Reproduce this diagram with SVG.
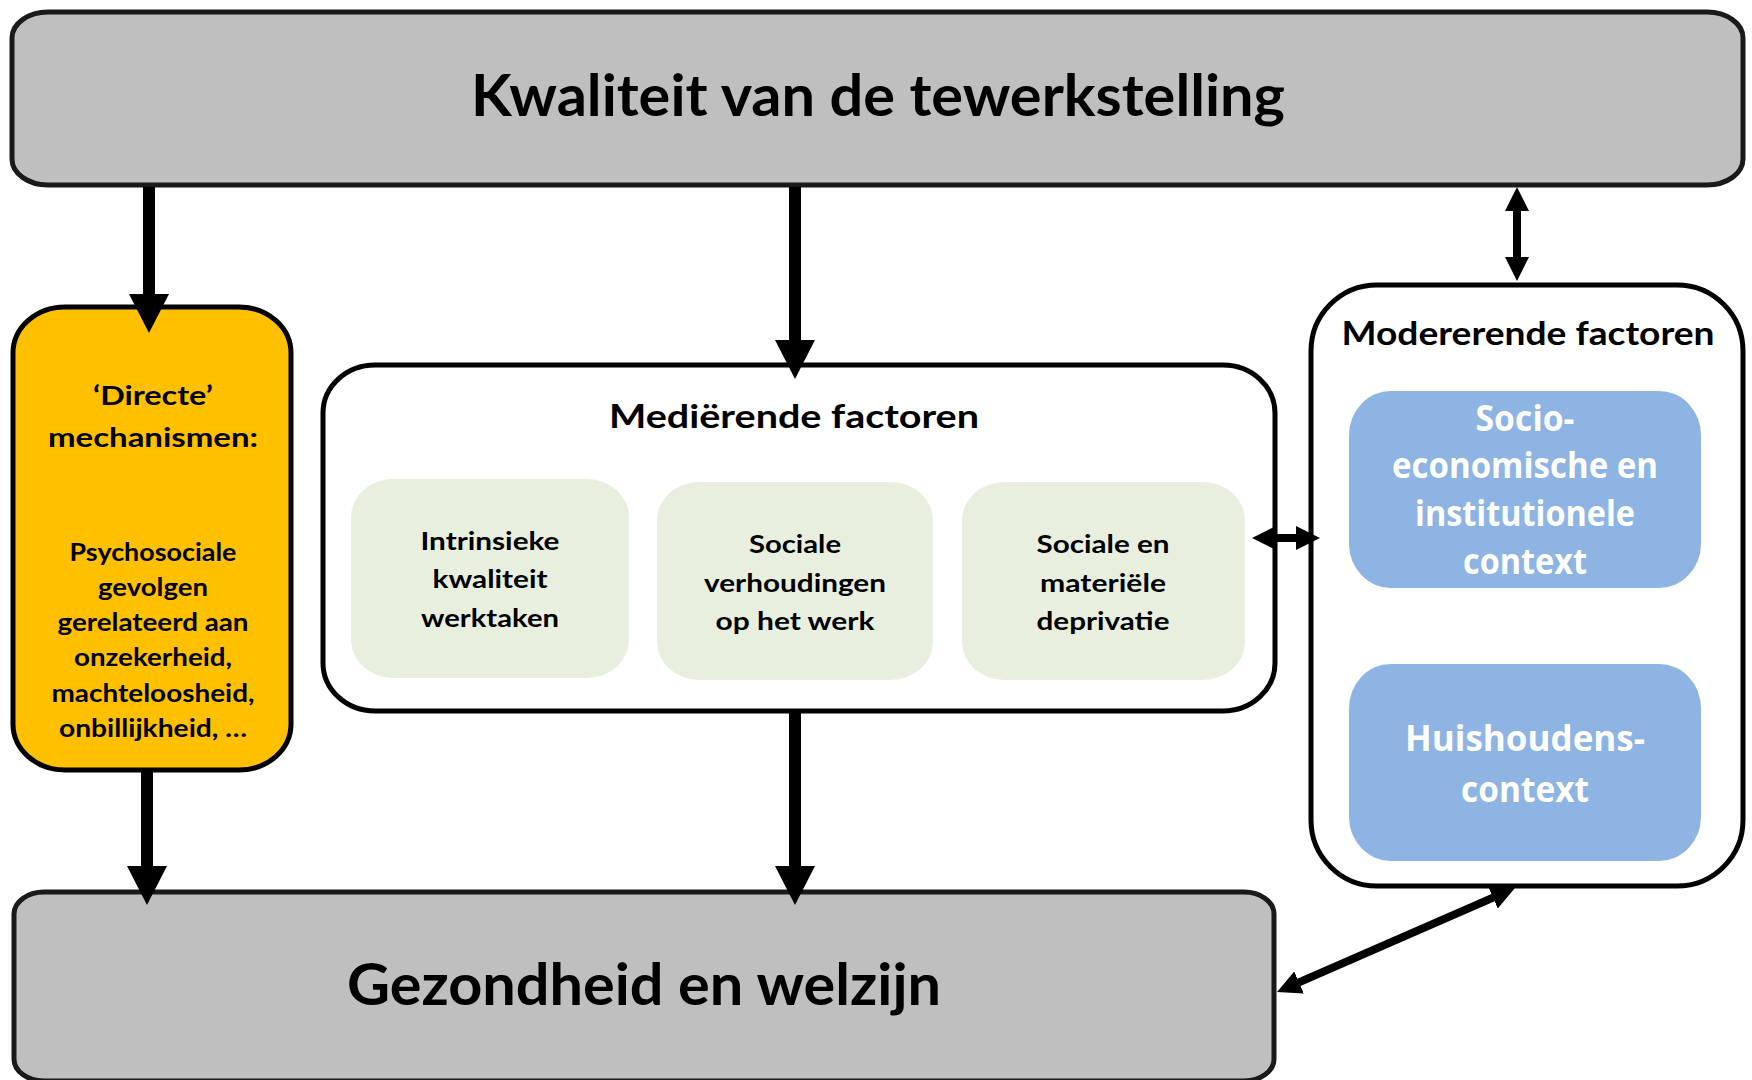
<svg xmlns="http://www.w3.org/2000/svg" width="1752" height="1080" viewBox="0 0 1752 1080">
<style>
  .box { stroke: #000; stroke-width: 5; }
  .gray { fill: #bfbfbf; stroke: #1a1a1a; stroke-width: 5; }
  .yellow { fill: #ffc000; }
  .white { fill: #ffffff; }
  .green { fill: #e9efdf; stroke: none; }
  .blue { fill: #8db4e2; stroke: none; }
  text { font-family: Lato, "Open Sans", "Liberation Sans", sans-serif; font-weight: bold; fill: #000; text-anchor: middle; }
  .big { font-size: 58px; }
  .head { font-size: 33px; }
  .mid { font-size: 26.5px; }
  .small { font-size: 24px; }
  .gtxt { font-size: 25.5px; }
  .btxt { font-family: "Open Sans", "Noto Sans", "Liberation Sans", sans-serif; font-size: 35px; fill: #ffffff; }
  .thick { stroke: #000; stroke-width: 12; fill: none; }
  .thin { stroke: #000; stroke-width: 8; fill: none; }
</style>
<defs>
  <marker id="headThick" markerUnits="userSpaceOnUse" viewBox="0 0 39 40" markerWidth="39" markerHeight="40" refX="2" refY="20" orient="auto">
    <path d="M0,0 L39,20 L0,40 z" fill="#000"/>
  </marker>
  <marker id="headThin" markerUnits="userSpaceOnUse" viewBox="0 0 24 24" markerWidth="24" markerHeight="24" refX="2" refY="12" orient="auto-start-reverse">
    <path d="M0,0 L24,12 L0,24 z" fill="#000"/>
  </marker>
</defs>

<g id="node-kwaliteit">
  <rect class="gray" x="12" y="12" width="1731" height="173" rx="36" ry="26"/>
  <text class="big" x="878" y="116" textLength="814" lengthAdjust="spacingAndGlyphs">Kwaliteit van de tewerkstelling</text>
</g>

<g id="node-directe">
  <rect class="box yellow" x="13" y="307" width="278" height="463" rx="52" ry="46"/>
  <text class="mid" x="153" y="405" textLength="120" lengthAdjust="spacingAndGlyphs">‘Directe’</text>
  <text class="mid" x="153" y="447" textLength="210" lengthAdjust="spacingAndGlyphs">mechanismen:</text>
  <text class="small" x="153" y="561" textLength="167" lengthAdjust="spacingAndGlyphs">Psychosociale</text>
  <text class="small" x="153" y="596" textLength="110" lengthAdjust="spacingAndGlyphs">gevolgen</text>
  <text class="small" x="153" y="631" textLength="191" lengthAdjust="spacingAndGlyphs">gerelateerd aan</text>
  <text class="small" x="153" y="666" textLength="158" lengthAdjust="spacingAndGlyphs">onzekerheid,</text>
  <text class="small" x="153" y="702" textLength="203" lengthAdjust="spacingAndGlyphs">machteloosheid,</text>
  <text class="small" x="153" y="737" textLength="188" lengthAdjust="spacingAndGlyphs">onbillijkheid, …</text>
</g>

<g id="node-medierende">
  <rect class="box white" x="323" y="365" width="952" height="346" rx="52" ry="48"/>
  <text class="head" x="794" y="428" textLength="370" lengthAdjust="spacingAndGlyphs">Mediërende factoren</text>
</g>

<g id="node-intrinsieke">
  <rect class="green" x="351" y="479" width="278" height="199" rx="42" ry="38"/>
  <text class="gtxt" x="490" y="550" textLength="139" lengthAdjust="spacingAndGlyphs">Intrinsieke</text>
  <text class="gtxt" x="490" y="588" textLength="115" lengthAdjust="spacingAndGlyphs">kwaliteit</text>
  <text class="gtxt" x="490" y="627" textLength="138" lengthAdjust="spacingAndGlyphs">werktaken</text>
</g>

<g id="node-sociale-verhoudingen">
  <rect class="green" x="657" y="482" width="276" height="198" rx="42" ry="38"/>
  <text class="gtxt" x="795" y="553" textLength="92" lengthAdjust="spacingAndGlyphs">Sociale</text>
  <text class="gtxt" x="795" y="592" textLength="182" lengthAdjust="spacingAndGlyphs">verhoudingen</text>
  <text class="gtxt" x="795" y="630" textLength="159" lengthAdjust="spacingAndGlyphs">op het werk</text>
</g>

<g id="node-deprivatie">
  <rect class="green" x="962" y="482" width="283" height="198" rx="42" ry="38"/>
  <text class="gtxt" x="1103" y="553" textLength="133" lengthAdjust="spacingAndGlyphs">Sociale en</text>
  <text class="gtxt" x="1103" y="592" textLength="126" lengthAdjust="spacingAndGlyphs">materiële</text>
  <text class="gtxt" x="1103" y="630" textLength="133" lengthAdjust="spacingAndGlyphs">deprivatie</text>
</g>

<g id="node-modererende">
  <rect class="box white" x="1311" y="285" width="432" height="601" rx="66" ry="66"/>
  <text class="head" x="1528" y="345" textLength="373" lengthAdjust="spacingAndGlyphs">Modererende factoren</text>
</g>

<g id="node-socio">
  <rect class="blue" x="1349" y="391" width="352" height="197" rx="42" ry="44"/>
  <text class="btxt" x="1525" y="431" textLength="99" lengthAdjust="spacingAndGlyphs">Socio-</text>
  <text class="btxt" x="1525" y="478" textLength="266" lengthAdjust="spacingAndGlyphs">economische en</text>
  <text class="btxt" x="1525" y="526" textLength="220" lengthAdjust="spacingAndGlyphs">institutionele</text>
  <text class="btxt" x="1525" y="574" textLength="124" lengthAdjust="spacingAndGlyphs">context</text>
</g>

<g id="node-huishoudens">
  <rect class="blue" x="1349" y="664" width="352" height="197" rx="42" ry="44"/>
  <text class="btxt" x="1525" y="751" textLength="240" lengthAdjust="spacingAndGlyphs">Huishoudens-</text>
  <text class="btxt" x="1525" y="802" textLength="128" lengthAdjust="spacingAndGlyphs">context</text>
</g>

<g id="node-gezondheid">
  <rect class="gray" x="14" y="892" width="1260" height="189" rx="30" ry="22"/>
  <text class="big" x="644" y="1005" textLength="594" lengthAdjust="spacingAndGlyphs">Gezondheid en welzijn</text>
</g>

<g id="connectors">
  <line class="thick" x1="149" y1="187" x2="149" y2="296" marker-end="url(#headThick)"/>
  <line class="thick" x1="795" y1="187" x2="795" y2="342" marker-end="url(#headThick)"/>
  <line class="thick" x1="147" y1="771" x2="147" y2="868" marker-end="url(#headThick)"/>
  <line class="thick" x1="795" y1="712" x2="795" y2="868" marker-end="url(#headThick)"/>
  <line class="thin" x1="1517" y1="209" x2="1517" y2="259" marker-start="url(#headThin)" marker-end="url(#headThin)"/>
  <line class="thin" x1="1274" y1="538" x2="1298" y2="538" marker-start="url(#headThin)" marker-end="url(#headThin)"/>
  <line class="thin" x1="1297.2" y1="983.2" x2="1494.8" y2="896.8" marker-start="url(#headThin)" marker-end="url(#headThin)"/>
</g>
</svg>
